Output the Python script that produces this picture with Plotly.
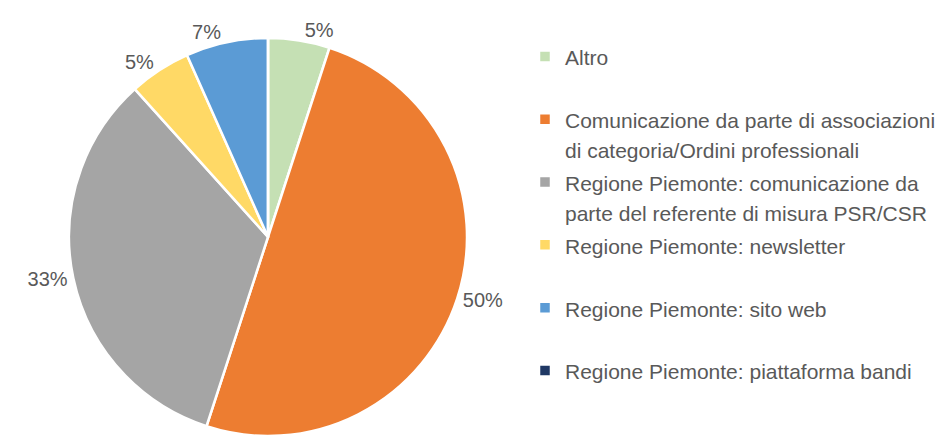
import plotly.graph_objects as go

categories = [
    "Altro",
    "Comunicazione da parte di associazioni<br>di categoria/Ordini professionali",
    "Regione Piemonte: comunicazione da<br>parte del referente di misura PSR/CSR",
    "Regione Piemonte: newsletter",
    "Regione Piemonte: sito web",
    "Regione Piemonte: piattaforma bandi",
]
values = [3, 30, 20, 3, 4, 0]
colors = ["#C5E0B4", "#ED7D31", "#A5A5A5", "#FFD966", "#5B9BD5", "#1F3864"]

templates = ["%{percent:.0%}" if v > 0 else "" for v in values]


def legend_label(name):
    lines = name.split("<br>")
    if len(lines) < 2:
        lines.append(" ")
    return "<br>".join("<span style='font-size:21px'>%s</span>" % ln for ln in lines)


fig = go.Figure(go.Pie(
    labels=[legend_label(c) for c in categories],
    values=values,
    sort=False,
    direction="clockwise",
    rotation=0,
    marker=dict(colors=colors, line=dict(color="white", width=2.5)),
    textposition="outside",
    texttemplate=templates,
    textfont=dict(size=20, color="#595959"),
    automargin=False,
    domain=dict(x=[68/949, 468/949], y=[0, 398/401]),
    hoverinfo="percent",
))

fig.update_layout(
    width=949, height=436,
    margin=dict(l=0, r=0, t=35, b=0),
    paper_bgcolor="white",
    font=dict(family="Liberation Sans, Arial, sans-serif", color="#595959"),
    showlegend=True,
    legend=dict(
        x=525/949, y=1.0, xref="paper", yref="paper",
        xanchor="left", yanchor="top",
        font=dict(size=23, color="#595959"),
        valign="top",
        traceorder="normal",
        itemclick=False,
    ),
)

fig.write_html("out.html", config={"displayModeBar": False},
               post_script="document.body.style.margin='0';")
